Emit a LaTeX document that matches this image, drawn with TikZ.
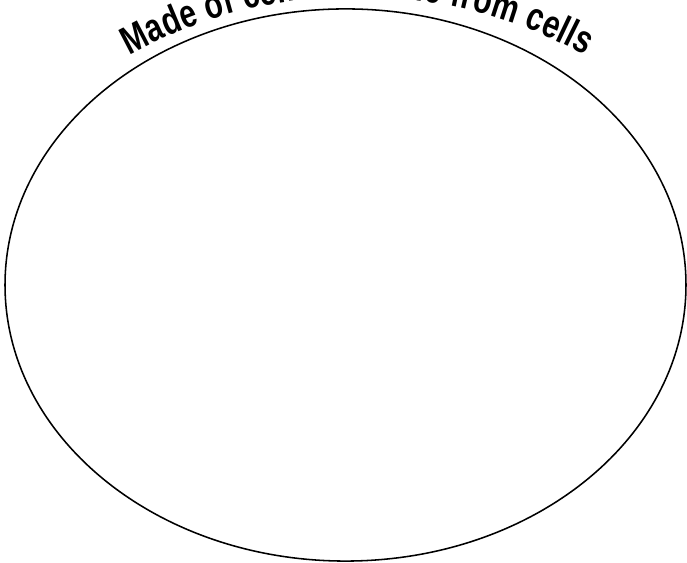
\documentclass[tikz,border=0pt]{standalone}
\usepackage{fontspec}
\setmainfont{Liberation Sans}
\newfontfamily\titlefont[FakeStretch=0.76]{Liberation Sans}
\usetikzlibrary{calc, shapes.geometric, decorations.text}

\begin{document}
\begin{tikzpicture}[
        x=0.025cm, y=0.025cm,
        cellshape/.style={ellipse, draw=black, line width=1.1pt, inner sep=0pt,
                    minimum width=17.02cm, minimum height=13.8cm},
        arctext/.style={decorate, decoration={text along path, text align=fit to path,
                    text={|\titlefont\fontsize{28}{32}\selectfont\bfseries|Made of cells or come from cells}}},
    ]
    \useasboundingbox (0,0) rectangle (687,563);
    \clip (0,0) rectangle (687,563);

    % the big oval
    \node[cellshape] (cell) at (345.5,278) {};

    % curved title along the top
    \coordinate (arcstart) at ($(357,96.5)+(119:470)$);
    \path[arctext] (arcstart) arc[start angle=119, end angle=61, radius=470];

\end{tikzpicture}
\end{document}
